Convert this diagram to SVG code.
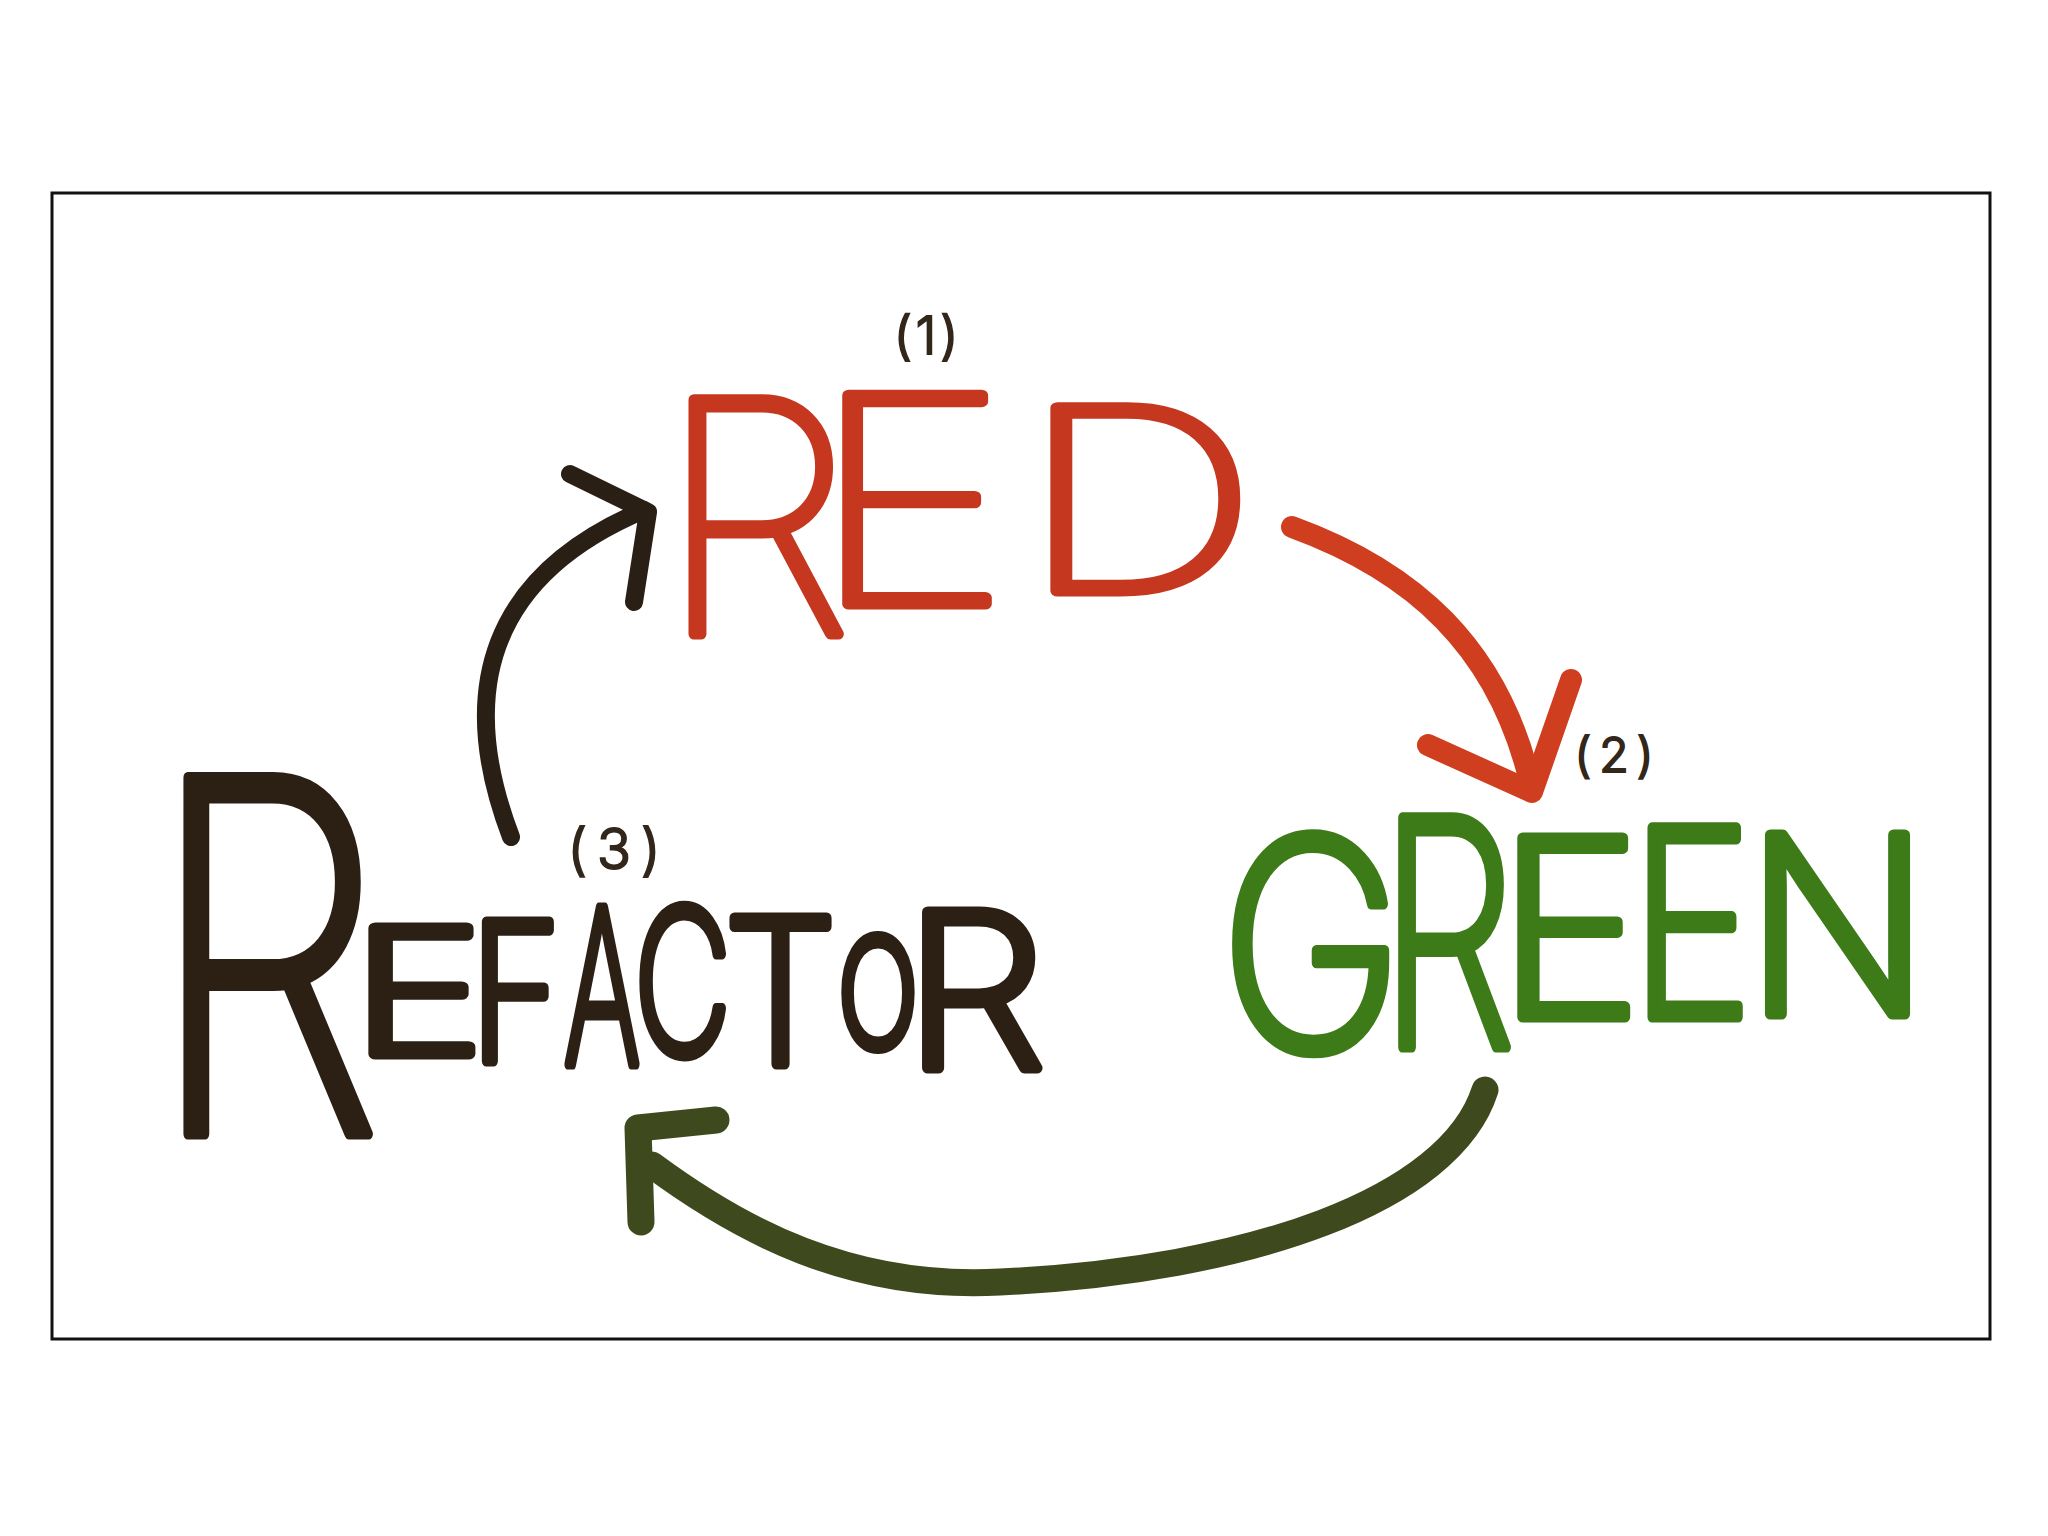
<svg xmlns="http://www.w3.org/2000/svg" width="2048" height="1536" viewBox="0 0 2048 1536">
<style>
  .word { font-family: Inter, "DejaVu Sans", "Liberation Sans", sans-serif; stroke-linejoin: round; stroke-linecap: round; stroke-width: 11; }
  .red { fill: #c6371f; stroke: #c6371f; font-weight: 100; }
  .green { fill: #3d7a18; stroke: #3d7a18; font-weight: 230; }
  .dark { fill: #2c2015; stroke: #2c2015; font-weight: 200; }
  .num { font-family: Inter, "Liberation Sans", sans-serif; font-weight: 300; fill: #33261a; stroke: #33261a; stroke-width: 2; }
  .arrow { fill: none; stroke-linecap: round; stroke-linejoin: round; }
  .a-red { stroke: #cf3f1f; stroke-width: 22; }
  .a-dark { stroke: #2a1f14; stroke-width: 18; }
  .a-green { stroke: #3e4a1d; stroke-width: 27; }
</style>
<rect x="0" y="0" width="2048" height="1536" fill="#ffffff"/>
<rect x="52" y="193" width="1938" height="1146" fill="#ffffff" stroke="#111111" stroke-width="3"/>

<g id="node-red">
  <text class="word red"><tspan x="658" y="634" font-size="322" textLength="195" lengthAdjust="spacingAndGlyphs">R</tspan><tspan x="810" y="604" font-size="287" textLength="200" lengthAdjust="spacingAndGlyphs">E</tspan><tspan x="1020" y="591" font-size="252" textLength="237" lengthAdjust="spacingAndGlyphs">D</tspan></text>
  <text class="num" x="928" y="354" text-anchor="middle" font-size="52" letter-spacing="4">(1)</text>
</g>

<g id="node-green">
  <text class="word green"><tspan x="1220" y="1050" font-size="292" textLength="183" lengthAdjust="spacingAndGlyphs">G</tspan><tspan x="1379" y="1047" font-size="315" textLength="137" lengthAdjust="spacingAndGlyphs">R</tspan><tspan x="1497" y="1017" font-size="246" textLength="145" lengthAdjust="spacingAndGlyphs">E</tspan><tspan x="1630" y="1017" font-size="260" textLength="123" lengthAdjust="spacingAndGlyphs">E</tspan><tspan x="1745" y="1014" font-size="246" textLength="185" lengthAdjust="spacingAndGlyphs">N</tspan></text>
  <text class="num" x="1618" y="772" text-anchor="middle" font-size="48" letter-spacing="8">(2)</text>
</g>

<g id="node-refactor">
  <text class="word dark"><tspan x="148" y="1134" font-size="490" textLength="236" lengthAdjust="spacingAndGlyphs">R</tspan><tspan x="352" y="1054" font-size="173" textLength="132" lengthAdjust="spacingAndGlyphs">E</tspan><tspan x="470" y="1061" font-size="191" textLength="91" lengthAdjust="spacingAndGlyphs">F</tspan><tspan x="564" y="1064" font-size="215" textLength="76" lengthAdjust="spacingAndGlyphs">A</tspan><tspan x="634" y="1054" font-size="200" textLength="97" lengthAdjust="spacingAndGlyphs">C</tspan><tspan x="724" y="1064" font-size="201" textLength="113" lengthAdjust="spacingAndGlyphs">T</tspan><tspan x="838" y="1047" font-size="150" textLength="80" lengthAdjust="spacingAndGlyphs">O</tspan><tspan x="904" y="1068" font-size="215" textLength="142" lengthAdjust="spacingAndGlyphs">R</tspan></text>
  <text class="num" x="619" y="869" text-anchor="middle" font-size="56" letter-spacing="10">(3)</text>
</g>

<g id="connectors">
  <path class="arrow a-red" d="M1292 527 C 1410 570, 1500 645, 1532 790"/>
  <path class="arrow a-red" d="M1428 745 L1532 792 L1571 680"/>
  <path class="arrow a-dark" d="M511 837 C 455 690, 490 575, 644 510"/>
  <path class="arrow a-dark" d="M570 474 L648 512 L634 602"/>
  <path class="arrow a-green" d="M1485 1090 C 1450 1200, 1250 1270, 1000 1282 C 850 1290, 740 1230, 652 1165"/>
  <path class="arrow a-green" d="M716 1120 L638 1128 L641 1222"/>
</g>
</svg>
